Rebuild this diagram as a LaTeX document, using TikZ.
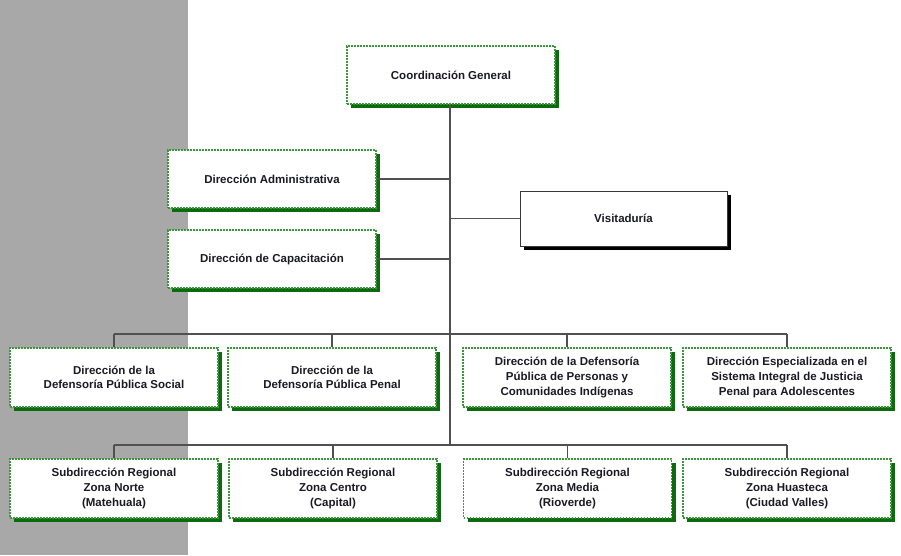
\documentclass[tikz,border=0pt]{standalone}
\usepackage{fontspec}
\setmainfont{Liberation Sans}
\usetikzlibrary{shadows}
\definecolor{bggray}{HTML}{A8A8A8}
\definecolor{dashgreen}{HTML}{3C963C}
\definecolor{shadgreen}{HTML}{0E6A0E}
\definecolor{linegray}{HTML}{505050}
\definecolor{txt}{HTML}{1A1A24}
\begin{document}
\begin{tikzpicture}[x=1pt,y=-1pt,
  gbox/.style={draw=dashgreen, line width=1.1pt, dash pattern=on 1.8pt off 1.2pt,
    fill=white, minimum width=208pt, minimum height=58pt, align=center,
    inner sep=2pt, text=txt,
    font=\bfseries\fontsize{11.5}{14.6}\selectfont,
    drop shadow={shadow xshift=4pt, shadow yshift=-4pt, fill=shadgreen, opacity=1}},
  kbox/.style={draw=linegray!70!black, line width=0.8pt, fill=white,
    minimum width=207pt, minimum height=55pt, align=center, text=txt,
    font=\bfseries\fontsize{11.5}{14.6}\selectfont,
    drop shadow={shadow xshift=4pt, shadow yshift=-4pt, fill=black, opacity=1}},
  conn/.style={draw=linegray, line width=1.1pt}]
\fill[white] (0,0) rectangle (901,555);
\fill[bggray] (0,0) rectangle (188,555);
\useasboundingbox (0,0) rectangle (901,555);

\node[gbox] (cg) at (451,75) {Coordinación General};
\node[gbox] (adm) at (272,179) {Dirección Administrativa};
\node[gbox] (cap) at (272,259) {Dirección de Capacitación};
\node[kbox] (vis) at (623.5,218.5) {Visitaduría};

\node[gbox, minimum height=59pt] (ra) at (114,377.5) {Dirección de la\\Defensoría Pública Social};
\node[gbox, minimum height=59pt] (rb) at (332,377.5) {Dirección de la\\Defensoría Pública Penal};
\node[gbox, minimum height=59pt] (rc) at (567,377.5) {Dirección de la Defensoría\\Pública de Personas y\\Comunidades Indígenas};
\node[gbox, minimum height=59pt] (rd) at (787,377.5) {Dirección Especializada en el\\Sistema Integral de Justicia\\Penal para Adolescentes};

\node[gbox, minimum height=59pt] (sa) at (114,488.5) {Subdirección Regional\\Zona Norte\\(Matehuala)};
\node[gbox, minimum height=59pt] (sb) at (333,488.5) {Subdirección Regional\\Zona Centro\\(Capital)};
\node[gbox, minimum height=59pt] (sc) at (567.5,488.5) {Subdirección Regional\\Zona Media\\(Rioverde)};
\node[gbox, minimum height=59pt] (sd) at (787,488.5) {Subdirección Regional\\Zona Huasteca\\(Ciudad Valles)};

\coordinate (j3) at (450,334);
\coordinate (j4) at (450,445);

\draw[conn] (cg.south -| j4) -- (j4);
\draw[conn] (adm.east) -- (adm.east -| j4);
\draw[conn] (cap.east) -- (cap.east -| j4);
\draw[conn] (vis.west) -- (vis.west -| j4);
\draw[conn] (ra.north |- j3) -- (rd.north |- j3);
\draw[conn] (sa.north |- j4) -- (sd.north |- j4);
\foreach \n in {ra,rb,rc,rd}{\draw[conn] (\n.north |- j3) -- (\n.north);}
\foreach \n in {sa,sb,sc,sd}{\draw[conn] (\n.north |- j4) -- (\n.north);}
\end{tikzpicture}
\end{document}
